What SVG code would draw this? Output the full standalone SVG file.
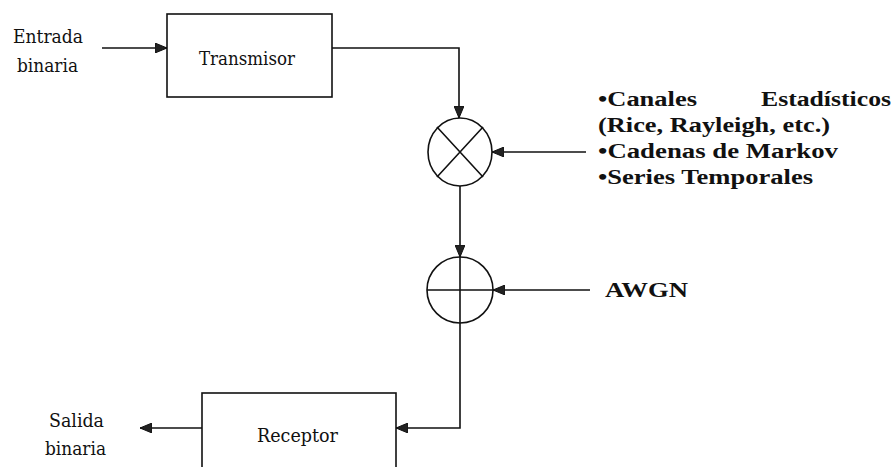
<svg xmlns="http://www.w3.org/2000/svg" width="896" height="467" viewBox="0 0 896 467">
<style>
.box{fill:#fff;stroke:#111;stroke-width:1.6}
.ln{fill:none;stroke:#111;stroke-width:1.6}
.lbl{font-family:'DejaVu Serif','Liberation Serif',serif;font-size:18px;fill:#111}
.bl{font-family:'Times New Roman','Liberation Serif',serif;font-size:20px;font-weight:bold;fill:#111}
</style>
<defs>
<marker id="ah" viewBox="0 0 12 10" refX="12" refY="5" markerWidth="12" markerHeight="10" markerUnits="userSpaceOnUse" orient="auto">
<path d="M0,0 L12,5 L0,10 Z" fill="#222" stroke="#111" stroke-width="1"/>
</marker>
</defs>
<rect width="896" height="467" fill="#fff"/>
<g id="connectors">
<path class="ln" d="M102,48 H167" marker-end="url(#ah)"/>
<path class="ln" d="M332,48 H459 V118" marker-end="url(#ah)"/>
<path class="ln" d="M586,152 H492" marker-end="url(#ah)"/>
<path class="ln" d="M460,186 V257" marker-end="url(#ah)"/>
<path class="ln" d="M590,290 H493" marker-end="url(#ah)"/>
<path class="ln" d="M460,323 V428 H396" marker-end="url(#ah)"/>
<path class="ln" d="M202,428 H140" marker-end="url(#ah)"/>
</g>
<g id="entrada">
<text class="lbl" x="13" y="43" textLength="70" lengthAdjust="spacingAndGlyphs">Entrada</text>
<text class="lbl" x="17" y="72" textLength="61" lengthAdjust="spacingAndGlyphs">binaria</text>
</g>
<g id="transmisor">
<rect class="box" x="167" y="14" width="165" height="83"/>
<text class="lbl" x="199" y="65" textLength="96" lengthAdjust="spacingAndGlyphs">Transmisor</text>
</g>
<g id="multiplicador">
<ellipse class="ln" cx="460" cy="152" rx="32" ry="34"/>
<path class="ln" d="M437,127 L483,177 M483,127 L437,177"/>
</g>
<g id="sumador">
<circle class="ln" cx="460" cy="290" r="33"/>
<path class="ln" d="M427,290 H493 M460,257 V323"/>
</g>
<g id="canales">
<text class="bl" y="106"><tspan x="598" textLength="99" lengthAdjust="spacingAndGlyphs">•Canales</tspan><tspan x="761" textLength="130" lengthAdjust="spacingAndGlyphs">Estadísticos</tspan></text>
<text class="bl" x="598" y="132" textLength="232" lengthAdjust="spacingAndGlyphs">(Rice, Rayleigh, etc.)</text>
<text class="bl" x="598" y="158" textLength="240" lengthAdjust="spacingAndGlyphs">•Cadenas de Markov</text>
<text class="bl" x="598" y="184" textLength="215" lengthAdjust="spacingAndGlyphs">•Series Temporales</text>
</g>
<g id="awgn">
<text class="bl" x="605" y="297" textLength="83" lengthAdjust="spacingAndGlyphs">AWGN</text>
</g>
<g id="receptor">
<rect class="box" x="202" y="393" width="194" height="80"/>
<text class="lbl" x="257" y="442" textLength="81" lengthAdjust="spacingAndGlyphs">Receptor</text>
</g>
<g id="salida">
<text class="lbl" x="49" y="427" textLength="55" lengthAdjust="spacingAndGlyphs">Salida</text>
<text class="lbl" x="45" y="455" textLength="61" lengthAdjust="spacingAndGlyphs">binaria</text>
</g>
</svg>
